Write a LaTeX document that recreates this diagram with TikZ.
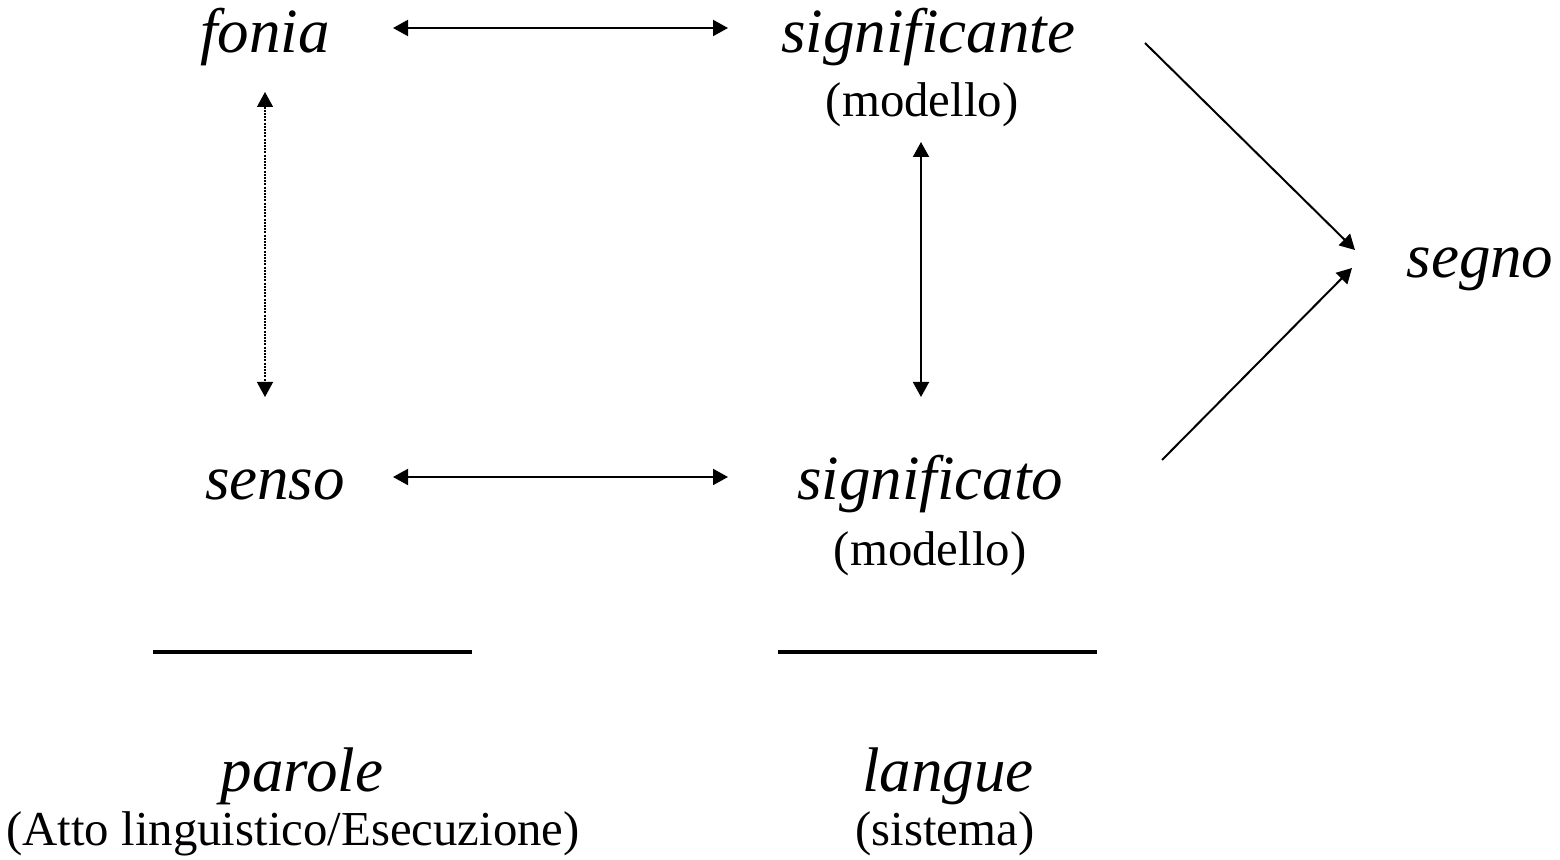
\documentclass[tikz,border=0pt]{standalone}
\usepackage{fontspec}
\setmainfont{Liberation Serif}
\usetikzlibrary{arrows.meta}
\begin{document}
\begin{tikzpicture}[x=0.5pt,y=-0.5pt,
  it/.style={font=\fontsize{31.5}{36}\selectfont\itshape, inner sep=0pt, anchor=base},
  rm/.style={font=\fontsize{24.4}{28}\selectfont, inner sep=0pt, anchor=base},
  arr/.style={line width=1pt, {Triangle[length=7.5pt,width=8pt]}-{Triangle[length=7.5pt,width=8pt]}},
  arrone/.style={line width=1pt, -{Triangle[length=7.5pt,width=8pt]}},
  dotarr/.style={line width=0.7pt, dash pattern=on 1pt off 0.6pt, {Triangle[length=7.5pt,width=8pt]}-{Triangle[length=7.5pt,width=8pt]}},
  bar/.style={line width=2pt}]
\useasboundingbox (0,0) rectangle (1560,860);
\node[it] (fonia) at (265,53) {fonia};
\node[it] (signte) at (928,53) {significante};
\node[rm] (mod1) at (922,117) {(modello)};
\node[it] (segno) at (1480,278) {segno};
\node[it] (senso) at (275,500) {senso};
\node[it] (signto) at (930,500) {significato};
\node[rm] (mod2) at (930,566) {(modello)};
\node[it] (parole) at (302,792) {parole};
\node[rm] (atto) at (293,846) {(Atto linguistico/Esecuzione)};
\node[it] (langue) at (948,792) {langue};
\node[rm] (sist) at (945,846) {(sistema)};
% arrow end points
\coordinate (a1) at (393,28); \coordinate (a2) at (728,28);
\coordinate (b1) at (393,477); \coordinate (b2) at (728,477);
\coordinate (c1) at (265,92); \coordinate (c2) at (265,397);
\coordinate (d1) at (921,142); \coordinate (d2) at (921,397);
\coordinate (e1) at (1145,43); \coordinate (e2) at (1355,250);
\coordinate (f1) at (1162,460); \coordinate (f2) at (1352,268);
\coordinate (l1) at (153,652); \coordinate (l2) at (472,652);
\coordinate (m1) at (778,652); \coordinate (m2) at (1097,652);
\draw[arr] (a1) -- (a2);
\draw[arr] (b1) -- (b2);
\draw[dotarr] (c1) -- (c2);
\draw[arr] (d1) -- (d2);
\draw[arrone] (e1) -- (e2);
\draw[arrone] (f1) -- (f2);
\draw[bar] (l1) -- (l2);
\draw[bar] (m1) -- (m2);
\end{tikzpicture}
\end{document}
